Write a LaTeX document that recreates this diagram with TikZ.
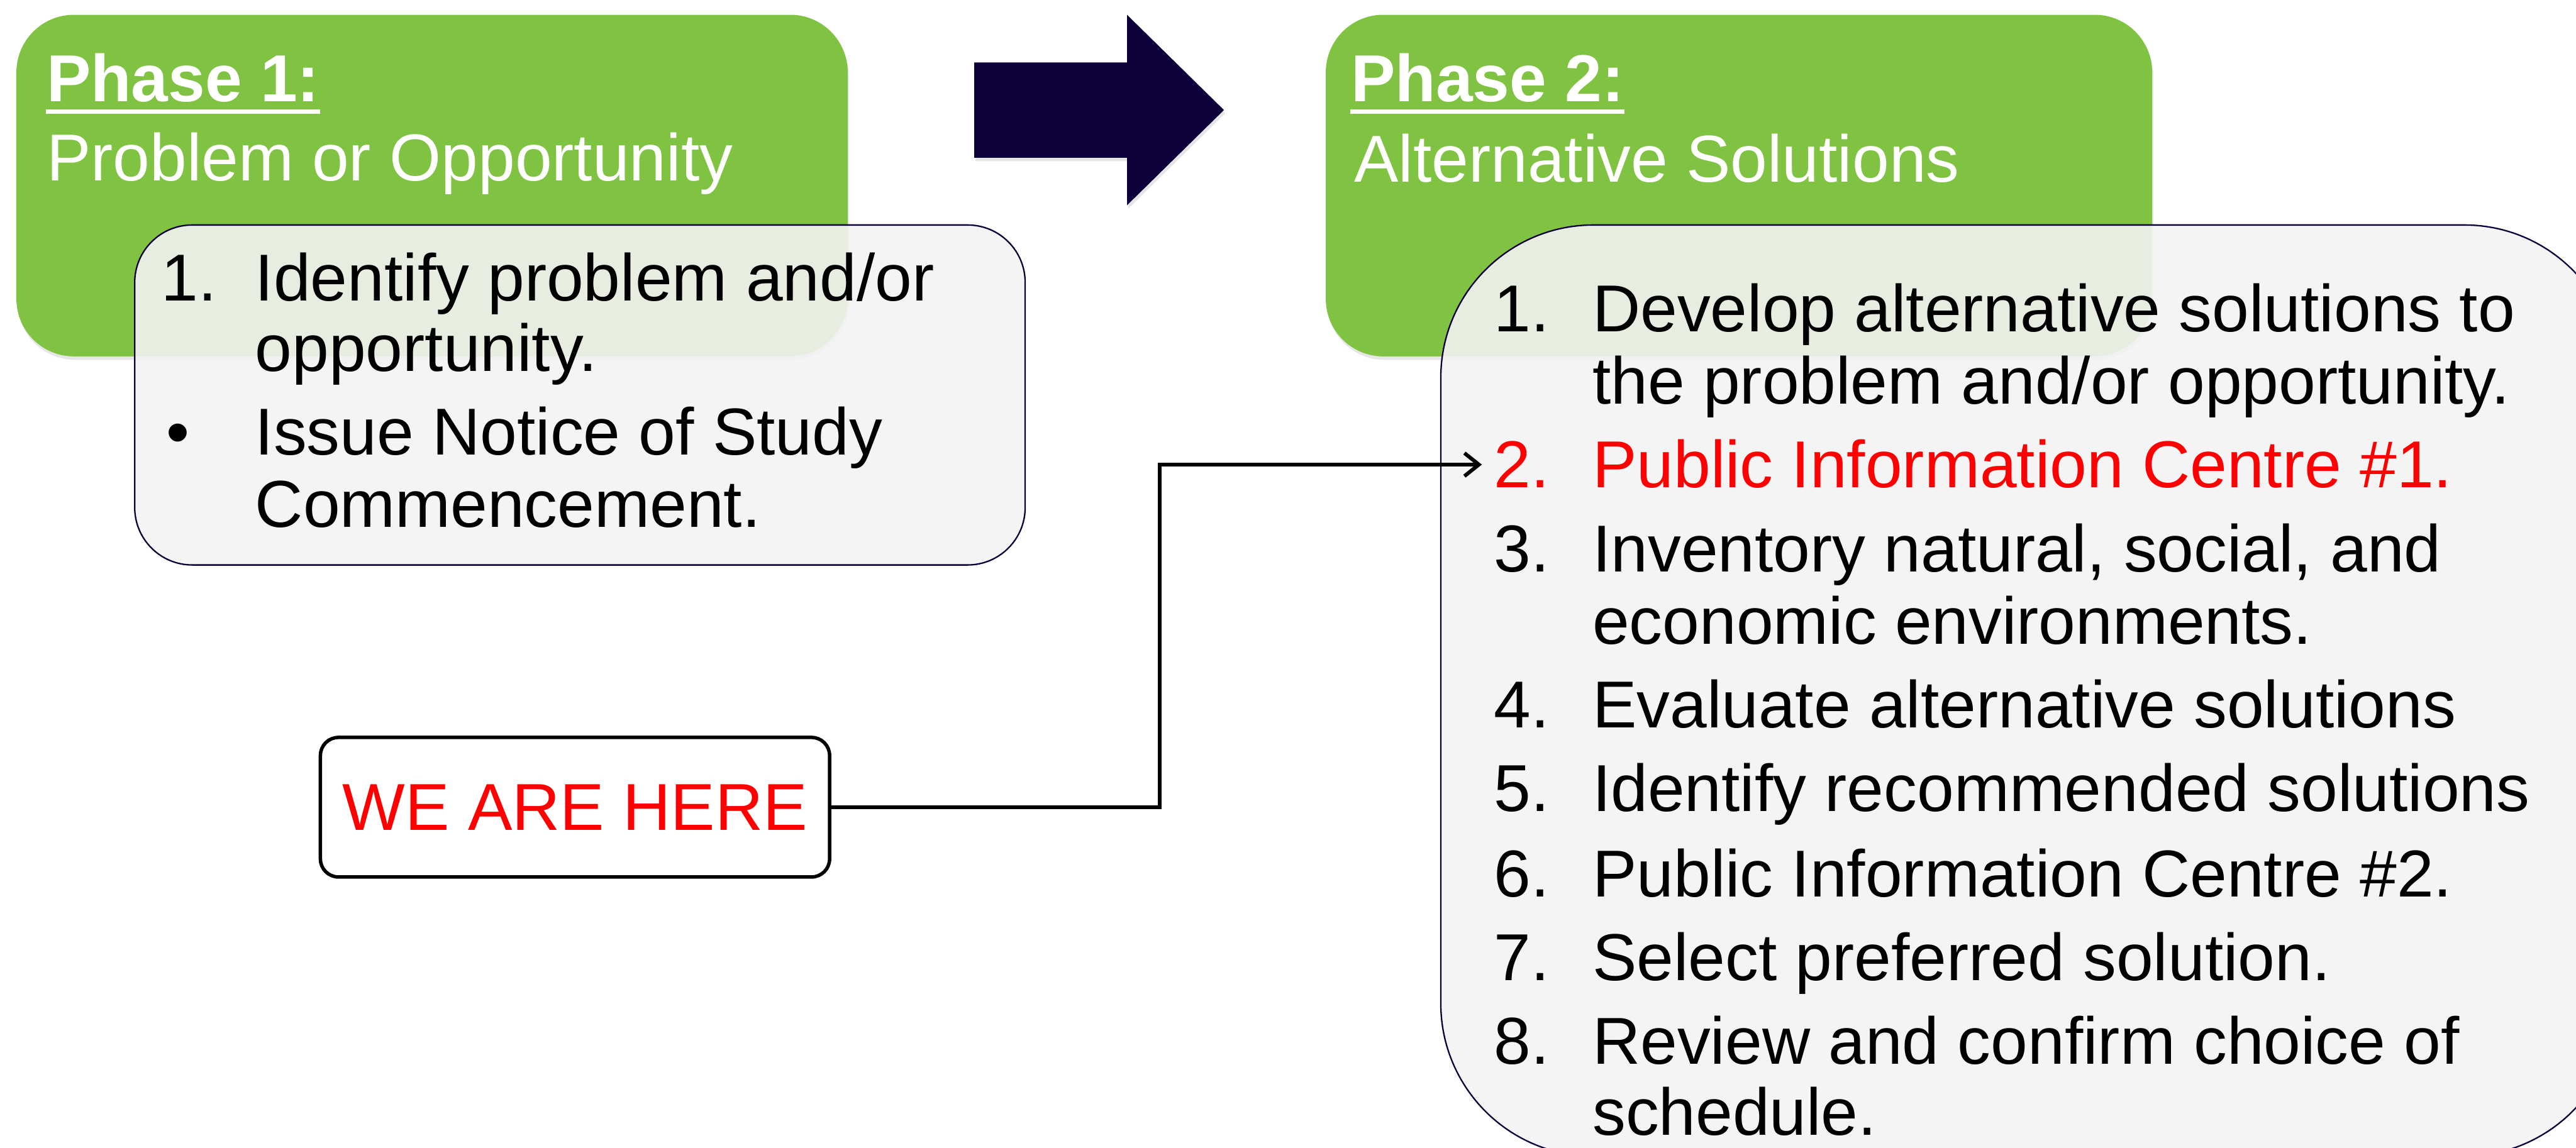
\documentclass[tikz,border=0pt]{standalone}
\usepackage{fontspec}
\setmainfont{Liberation Sans}
\usetikzlibrary{arrows.meta, shadows}
\definecolor{phasegreen}{HTML}{80C342}
\definecolor{navy}{HTML}{0E003A}
\definecolor{boxgray}{HTML}{F3F3F3}
\tikzset{
  txt/.style={anchor=base west, inner sep=0pt, font=\fontsize{23}{25}\selectfont},
  head/.style={txt, text=white},
  headbold/.style={head, font=\fontsize{23}{25}\selectfont\bfseries},
  phasebox/.style={fill=phasegreen, rounded corners=0.7cm, drop shadow={opacity=0.2, shadow xshift=0.4pt, shadow yshift=-1.2pt}},
  listbox/.style={fill=boxgray, fill opacity=0.9, draw=navy, line width=0.5pt},
  herebox/.style={draw, line width=1.2pt, rounded corners=0.22cm, minimum width=6.2cm, minimum height=1.7cm, text=red, font=\fontsize{23}{25}\selectfont},
  link/.style={line width=1.3pt, -{Straight Barb[length=5pt, width=8pt]}, shorten >=0.14cm}
}

\begin{document}
\begin{tikzpicture}[x=0.02cm, y=-0.02cm]
    \useasboundingbox (0,0) rectangle (1568,699);
    %the green phase boxes
    \fill[phasebox] (10,9) rectangle (516,217);
    \fill[phasebox] (807,9) rectangle (1310,217);
    %the big arrow between the phases
    \fill[navy, drop shadow={opacity=0.2, shadow xshift=0.4pt, shadow yshift=-1.2pt}] (593,38) -- (686,38) -- (686,9) -- (745,67) -- (686,125) -- (686,96) -- (593,96) -- cycle;
    %the list boxes
    \path[listbox, rounded corners=0.7cm] (82,137) rectangle (624,344);
    \begin{scope}
        \clip (0,0) rectangle (1568,699);
        \path[listbox, rounded corners=1.86cm] (877,137) rectangle (1593,704);
    \end{scope}
    %headings
    \path (28,62) node[headbold] (ph1) {Phase 1:} (28,110) node[head] (ph1title) {Problem or Opportunity}
        (822,62) node[headbold] (ph2) {Phase 2:} (824,111) node[head] (ph2title) {Alternative Solutions};
    \draw[white, line width=1.6pt] ([yshift=-0.12cm]ph1.base west) -- ([yshift=-0.12cm]ph1.base east);
    \draw[white, line width=1.6pt] ([yshift=-0.12cm]ph2.base west) -- ([yshift=-0.12cm]ph2.base east);
    %phase 1 entries
    \path (98,183) node[txt] (a1) {1.} (155,183) node[txt] (a1a) {Identify problem and/or}
        (155,226) node[txt] (a1b) {opportunity.}
        (101,277) node[txt] (a2) {\textbullet} (155,277) node[txt] (a2a) {Issue Notice of Study}
        (155,321) node[txt] (a2b) {Commencement.};
    %phase 2 entries
    \path (909,202) node[txt] (b1) {1.} (969,202) node[txt] (b1a) {Develop alternative solutions to}
        (969,246) node[txt] (b1b) {the problem and/or opportunity.}
        (909,297) node[txt, text=red] (b2) {2.} (969,297) node[txt, text=red] (b2a) {Public Information Centre \#1.}
        (909,348) node[txt] (b3) {3.} (969,348) node[txt] (b3a) {Inventory natural, social, and}
        (969,392) node[txt] (b3b) {economic environments.}
        (909,443) node[txt] (b4) {4.} (969,443) node[txt] (b4a) {Evaluate alternative solutions}
        (909,494) node[txt] (b5) {5.} (969,494) node[txt] (b5a) {Identify recommended solutions}
        (909,546) node[txt] (b6) {6.} (969,546) node[txt] (b6a) {Public Information Centre \#2.}
        (909,597) node[txt] (b7) {7.} (969,597) node[txt] (b7a) {Select preferred solution.}
        (909,648) node[txt] (b8) {8.} (969,648) node[txt] (b8a) {Review and confirm choice of}
        (969,691) node[txt] (b8b) {schedule.};
    %where we are
    \node[herebox] (here) at (350,491.5) {WE ARE HERE};
    \draw[link] (here.east) -- ++(200,0) |- (b2.west);
\end{tikzpicture}
\end{document}
